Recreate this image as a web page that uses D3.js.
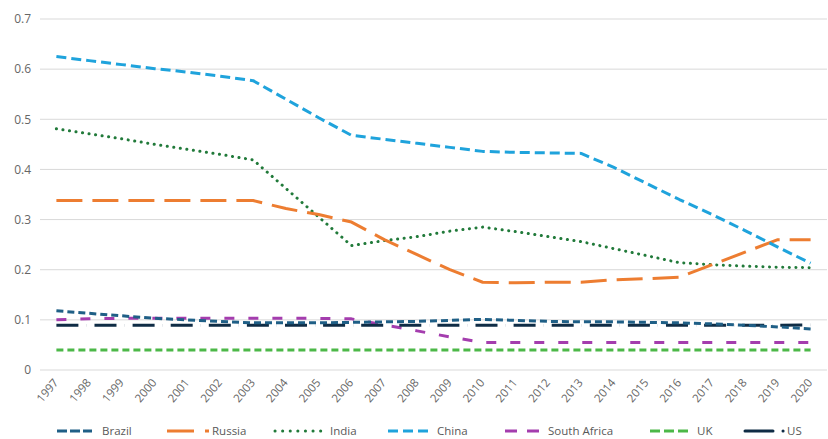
<!DOCTYPE html>
<html><head><meta charset="utf-8">
<script src="https://cdn.jsdelivr.net/npm/d3@7"></script>
<style>body{margin:0;background:#fff;}svg{display:block;font-family:"Open Sans",Arial,sans-serif;}</style>
</head><body><svg id="c" width="828" height="439"></svg>
<script>
const years = ["1997","1998","1999","2000","2001","2002","2003","2004","2005","2006","2007","2008","2009","2010","2011","2012","2013","2014","2015","2016","2017","2018","2019","2020"];
const brazil = [0.118,0.113,0.108,0.103,0.100,0.097,0.094,0.094,0.094,0.095,0.096,0.097,0.099,0.101,0.099,0.097,0.096,0.096,0.095,0.094,0.092,0.089,0.086,0.082];
const russia = [0.338,0.338,0.338,0.338,0.338,0.338,0.338,0.322,0.310,0.295,0.260,0.230,0.200,0.175,0.174,0.175,0.175,0.180,0.182,0.185,0.210,0.235,0.260,0.260];
const india = [0.481,0.471,0.461,0.450,0.440,0.430,0.419,0.362,0.305,0.248,0.258,0.266,0.277,0.285,0.276,0.266,0.256,0.242,0.228,0.214,0.210,0.207,0.205,0.204];
const china = [0.625,0.617,0.609,0.601,0.594,0.586,0.577,0.540,0.503,0.468,0.460,0.452,0.444,0.436,0.434,0.433,0.432,0.404,0.372,0.340,0.310,0.278,0.245,0.213];
const southAfrica = [0.100,0.102,0.103,0.103,0.103,0.103,0.103,0.103,0.103,0.102,0.090,0.078,0.066,0.055,0.055,0.055,0.055,0.055,0.055,0.055,0.055,0.055,0.055,0.055];
const uk = [0.040,0.040,0.040,0.040,0.040,0.040,0.040,0.040,0.040,0.040,0.040,0.040,0.040,0.040,0.040,0.040,0.040,0.040,0.040,0.040,0.040,0.040,0.040,0.040];
const us = [0.089,0.089,0.089,0.089,0.089,0.089,0.089,0.089,0.089,0.089,0.089,0.089,0.089,0.089,0.089,0.089,0.089,0.089,0.089,0.089,0.089,0.089,0.089,0.090];
const yTicks = [0,0.1,0.2,0.3,0.4,0.5,0.6,0.7];

const seriesNames = ["Brazil","Russia","India","China","South Africa","UK","US"];
const seriesValues = [brazil,russia,india,china,southAfrica,uk,us];
const seriesColors = ["#1f5f86","#ed7d31","#217a3a","#1fa3dc","#a43dae","#4cb848","#0f2c45"];
const seriesDash = ["7,4","26,10","0.1,6.5","10,5","10,14","7,4","22,8,0.1,8"];
const seriesCap = ["butt","butt","round","butt","butt","butt","butt"];
// legend styling
const legendX0 = [57,167,275,388,505,650,745];
const legendLen = [35,42,47,40,35,38,40];
const legendDash = ["10,3","27,11,4,20","0.1,7.5","10,5","12,10","10,4","28,10,0.1,20"];
const legendCap = ["butt","butt","round","butt","butt","butt","round"];
const legendTextX = [102,212,330,437,548,697,787];

const svg = d3.select("#c");
const x = d3.scalePoint().domain(years).range([40,827]).padding(0.5);
const y = d3.scaleLinear().domain([0,0.7]).range([370,19]);

// gridlines
svg.append("g").selectAll("line").data(yTicks).join("line")
  .attr("x1",40).attr("x2",827)
  .attr("y1",d=>y(d)).attr("y2",d=>y(d))
  .attr("stroke","#d9d9d9").attr("stroke-width",1);

// y axis labels
const yAxis = d3.axisLeft(y).tickValues(yTicks).tickSize(0).tickPadding(0)
  .tickFormat(d=>d===0?"0":d3.format(".1f")(d));
const gy = svg.append("g").attr("transform","translate(31,0)").call(yAxis);
gy.select(".domain").remove();
gy.selectAll("text").attr("fill","#666").attr("font-size","12px").attr("font-family","Open Sans, Arial, sans-serif");

// x axis labels
const xAxis = d3.axisBottom(x).tickSize(0).tickPadding(0);
const gx = svg.append("g").attr("transform","translate(0,370)").call(xAxis);
gx.select(".domain").remove();
gx.selectAll("text")
  .attr("fill","#666").attr("font-size","11.5px").attr("font-family","Open Sans, Arial, sans-serif")
  .attr("text-anchor","end").attr("dy",null).attr("y",0)
  .attr("transform","translate(2,13) rotate(-50)");

// lines
const line = d3.line().x((d,i)=>x(years[i])).y(d=>y(d));
const order = [5,4,6,0,2,1,3];
svg.append("g").selectAll("path").data(order).join("path")
  .attr("d",k=>line(seriesValues[k]))
  .attr("fill","none")
  .attr("stroke",k=>seriesColors[k])
  .attr("stroke-width",3)
  .attr("stroke-dasharray",k=>seriesDash[k])
  .attr("stroke-linecap",k=>seriesCap[k])
  .attr("stroke-linejoin","round");

// legend
const lg = svg.append("g").attr("transform","translate(0,431)");
seriesNames.forEach((n,k)=>{
  lg.append("line").attr("x1",legendX0[k]).attr("x2",legendX0[k]+legendLen[k]).attr("y1",0).attr("y2",0)
    .attr("stroke",seriesColors[k]).attr("stroke-width",3)
    .attr("stroke-dasharray",legendDash[k])
    .attr("stroke-linecap",legendCap[k]);
  lg.append("text").attr("x",legendTextX[k]).attr("y",4).text(n)
    .attr("fill","#595959").attr("font-size","11.5px");
});
</script></body></html>
